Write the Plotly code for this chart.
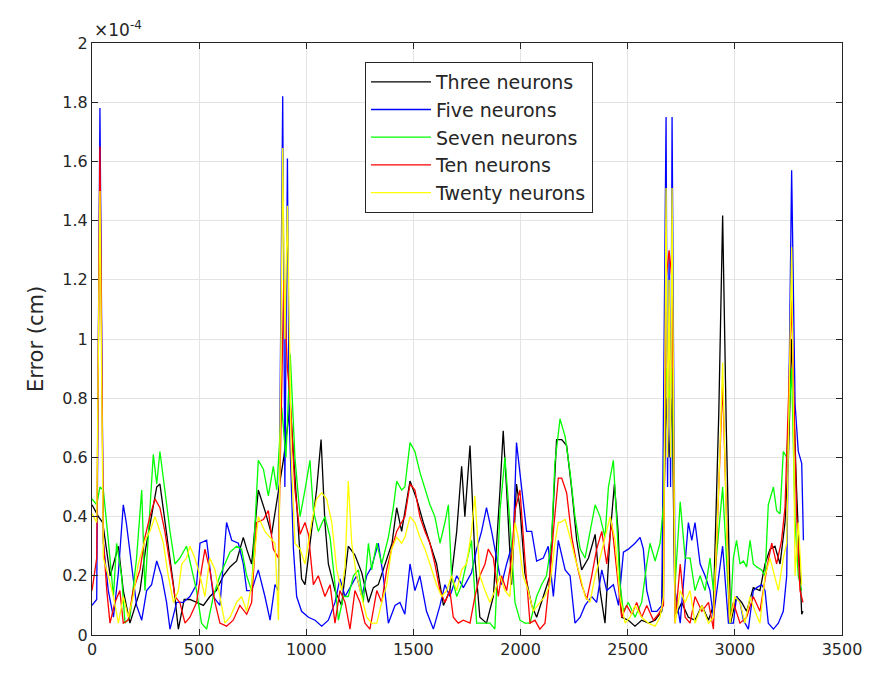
import plotly.graph_objects as go

# values in units of 1e-4 cm
black_x = [0,30,50,85,123,146,177,224,250,302,317,348,380,403,430,457,488,520,550,580,613,644,675,706,722,745,776,807,838,870,895,925,950,978,994,1025,1048,1069,1087,1103,1134,1165,1196,1227,1259,1290,1313,1336,1368,1400,1422,1445,1484,1515,1546,1577,1608,1640,1670,1702,1725,1740,1764,1787,1810,1841,1873,1904,1919,1935,1958,1981,1997,2020,2052,2075,2106,2137,2168,2192,2215,2239,2262,2285,2317,2348,2371,2394,2418,2438,2455,2472,2503,2534,2565,2597,2628,2659,2679,2693,2707,2721,2752,2783,2814,2846,2877,2900,2925,2943,2960,2980,3008,3032,3055,3086,3117,3141,3164,3187,3211,3234,3250,3265,3288,3312,3318]
black_y = [0.44,0.40,0.38,0.20,0.30,0.15,0.04,0.15,0.29,0.50,0.51,0.35,0.17,0.02,0.12,0.12,0.11,0.10,0.13,0.15,0.20,0.23,0.25,0.33,0.29,0.24,0.49,0.42,0.34,0.49,0.60,0.78,0.50,0.19,0.17,0.35,0.49,0.66,0.38,0.24,0.15,0.10,0.30,0.27,0.21,0.11,0.16,0.17,0.24,0.31,0.43,0.35,0.52,0.46,0.38,0.31,0.24,0.10,0.15,0.35,0.57,0.40,0.64,0.26,0.06,0.04,0.13,0.49,0.69,0.49,0.17,0.51,0.43,0.21,0.10,0.06,0.13,0.20,0.66,0.66,0.64,0.49,0.32,0.22,0.26,0.34,0.15,0.04,0.34,0.51,0.35,0.06,0.05,0.03,0.05,0.04,0.05,0.08,0.80,0.60,0.80,0.06,0.11,0.06,0.05,0.10,0.05,0.10,0.75,1.417,0.70,0.04,0.13,0.11,0.08,0.16,0.15,0.24,0.29,0.30,0.24,0.38,0.60,1.00,0.49,0.07,0.08]

blue_x = [0,22,37,53,76,100,123,146,160,185,208,232,255,278,302,325,348,364,395,426,457,488,504,535,566,597,628,652,683,706,722,745,776,807,831,854,870,890,900,912,920,940,955,978,1010,1041,1072,1103,1134,1157,1181,1212,1235,1259,1282,1305,1336,1359,1383,1414,1437,1460,1484,1507,1530,1561,1593,1624,1647,1670,1702,1733,1771,1795,1818,1841,1865,1888,1911,1935,1966,1981,2005,2028,2052,2075,2106,2129,2153,2176,2208,2231,2254,2278,2301,2332,2355,2379,2402,2433,2457,2480,2503,2534,2558,2573,2589,2612,2636,2659,2679,2686,2693,2700,2707,2721,2745,2768,2783,2799,2814,2838,2861,2884,2900,2943,2970,2993,3008,3024,3040,3063,3086,3102,3125,3141,3156,3180,3203,3226,3242,3265,3281,3296,3312,3320]
blue_y = [0.10,0.12,1.78,0.31,0.15,0.06,0.21,0.44,0.38,0.24,0.10,0.05,0.15,0.17,0.25,0.20,0.11,0.02,0.11,0.11,0.13,0.17,0.31,0.32,0.13,0.10,0.38,0.32,0.31,0.24,0.15,0.15,0.22,0.13,0.05,0.17,0.15,1.82,0.50,1.61,0.74,0.29,0.13,0.08,0.06,0.05,0.03,0.05,0.11,0.19,0.13,0.17,0.20,0.13,0.20,0.23,0.31,0.20,0.04,0.10,0.11,0.07,0.24,0.15,0.20,0.08,0.02,0.10,0.17,0.13,0.20,0.16,0.21,0.29,0.35,0.43,0.35,0.26,0.17,0.24,0.32,0.65,0.49,0.35,0.35,0.25,0.26,0.30,0.13,0.32,0.22,0.20,0.04,0.06,0.10,0.13,0.11,0.22,0.15,0.17,0.10,0.28,0.29,0.31,0.33,0.29,0.15,0.08,0.08,0.10,1.75,0.50,1.28,0.50,1.75,0.15,0.04,0.26,0.38,0.32,0.38,0.24,0.20,0.15,0.06,0.30,0.04,0.04,0.13,0.11,0.05,0.02,0.15,0.16,0.17,0.15,0.04,0.02,0.04,0.08,0.20,1.57,0.78,0.62,0.58,0.32]

green_x = [0,22,37,53,76,100,115,138,154,177,208,232,247,270,286,302,317,340,364,387,410,441,473,488,511,535,566,597,620,644,675,698,722,745,776,800,823,846,862,885,905,925,947,971,994,1017,1033,1056,1087,1111,1134,1150,1173,1196,1220,1243,1266,1290,1305,1329,1352,1383,1406,1422,1445,1460,1484,1507,1530,1554,1577,1600,1624,1647,1663,1678,1702,1725,1748,1771,1795,1826,1857,1880,1904,1927,1950,1974,1997,2020,2044,2075,2098,2121,2145,2160,2176,2184,2208,2231,2254,2278,2301,2324,2348,2371,2394,2410,2433,2449,2464,2480,2503,2534,2565,2589,2604,2628,2651,2667,2679,2693,2707,2721,2745,2768,2791,2814,2838,2861,2884,2900,2943,2977,2993,3008,3024,3040,3055,3071,3086,3102,3125,3141,3156,3180,3195,3211,3226,3242,3265,3281,3296,3312]
green_y = [0.46,0.44,0.50,0.49,0.32,0.13,0.31,0.20,0.04,0.06,0.26,0.49,0.15,0.43,0.61,0.51,0.62,0.49,0.35,0.24,0.26,0.30,0.20,0.15,0.04,0.02,0.13,0.20,0.24,0.28,0.30,0.29,0.20,0.15,0.59,0.56,0.47,0.57,0.49,0.77,0.60,0.95,0.60,0.40,0.49,0.59,0.42,0.35,0.40,0.33,0.17,0.05,0.13,0.13,0.20,0.22,0.11,0.31,0.22,0.31,0.24,0.33,0.43,0.52,0.49,0.50,0.65,0.62,0.55,0.49,0.44,0.40,0.31,0.38,0.44,0.20,0.13,0.17,0.25,0.32,0.04,0.04,0.04,0.02,0.42,0.60,0.38,0.11,0.05,0.04,0.04,0.13,0.17,0.20,0.32,0.58,0.69,0.73,0.67,0.55,0.40,0.29,0.26,0.35,0.44,0.40,0.33,0.50,0.59,0.38,0.17,0.08,0.11,0.06,0.11,0.24,0.31,0.25,0.31,0.44,0.90,0.80,0.90,0.17,0.45,0.26,0.26,0.15,0.20,0.15,0.26,0.15,0.50,0.04,0.26,0.32,0.24,0.25,0.23,0.32,0.24,0.23,0.22,0.20,0.44,0.50,0.42,0.41,0.62,0.60,0.90,0.38,0.20,0.15]

red_x = [0,22,37,53,69,84,107,130,146,169,192,224,247,270,294,317,340,364,387,410,434,457,488,511,527,550,574,597,628,659,690,722,745,768,800,823,846,870,895,912,925,947,971,994,1010,1033,1056,1087,1111,1134,1157,1181,1204,1227,1251,1274,1297,1329,1352,1375,1398,1422,1445,1460,1484,1507,1530,1554,1577,1600,1624,1647,1670,1686,1709,1733,1764,1787,1810,1834,1849,1873,1896,1911,1935,1958,1974,1997,2020,2044,2067,2090,2114,2137,2153,2176,2192,2215,2239,2262,2285,2309,2332,2355,2379,2402,2425,2449,2472,2495,2519,2542,2565,2589,2620,2643,2667,2679,2693,2707,2721,2745,2768,2791,2814,2846,2877,2900,2943,2975,2993,3024,3055,3086,3117,3148,3172,3195,3218,3234,3265,3288,3304,3318]
red_y = [0.15,0.26,1.65,0.32,0.15,0.04,0.11,0.15,0.04,0.05,0.15,0.22,0.33,0.40,0.46,0.43,0.35,0.23,0.13,0.11,0.04,0.06,0.11,0.22,0.29,0.22,0.11,0.04,0.03,0.05,0.10,0.07,0.11,0.38,0.39,0.42,0.29,0.26,1.20,0.90,0.80,0.49,0.34,0.38,0.34,0.17,0.20,0.13,0.17,0.04,0.15,0.11,0.02,0.15,0.11,0.04,0.02,0.15,0.11,0.22,0.29,0.35,0.38,0.40,0.51,0.49,0.40,0.35,0.31,0.24,0.15,0.11,0.15,0.06,0.04,0.05,0.04,0.13,0.20,0.24,0.29,0.26,0.13,0.20,0.15,0.26,0.42,0.49,0.26,0.04,0.05,0.02,0.04,0.20,0.35,0.53,0.53,0.48,0.33,0.24,0.17,0.12,0.20,0.29,0.35,0.24,0.38,0.22,0.06,0.10,0.07,0.11,0.06,0.10,0.05,0.07,0.10,1.20,1.30,1.20,0.04,0.24,0.06,0.04,0.13,0.08,0.11,0.02,0.85,0.05,0.11,0.04,0.06,0.13,0.08,0.22,0.31,0.24,0.32,0.43,1.13,0.41,0.15,0.11]

yellow_x = [0,22,37,53,76,100,123,146,169,192,216,247,270,294,317,333,356,380,403,419,441,457,480,504,527,550,574,597,620,644,675,698,722,745,776,807,831,854,870,890,900,912,930,947,971,994,1025,1048,1072,1095,1119,1142,1165,1181,1196,1212,1235,1259,1282,1305,1329,1352,1375,1398,1422,1445,1460,1484,1507,1530,1554,1577,1608,1632,1655,1678,1702,1725,1748,1771,1787,1810,1834,1857,1880,1904,1927,1950,1974,1989,2012,2036,2059,2090,2114,2137,2160,2176,2184,2208,2231,2254,2278,2301,2324,2348,2371,2394,2418,2441,2464,2488,2511,2534,2565,2597,2628,2651,2667,2679,2686,2693,2700,2707,2721,2745,2768,2791,2814,2846,2877,2900,2925,2943,2960,2977,3000,3024,3047,3071,3094,3117,3141,3164,3187,3203,3226,3242,3265,3281,3296,3312]
yellow_y = [0.41,0.38,1.50,0.26,0.20,0.13,0.04,0.13,0.06,0.13,0.24,0.32,0.35,0.40,0.35,0.31,0.20,0.11,0.15,0.24,0.26,0.30,0.26,0.20,0.13,0.26,0.22,0.13,0.04,0.06,0.11,0.13,0.08,0.17,0.40,0.35,0.33,0.31,0.05,1.645,1.00,1.45,0.60,0.31,0.29,0.24,0.38,0.46,0.48,0.46,0.38,0.22,0.15,0.23,0.52,0.31,0.20,0.13,0.06,0.04,0.04,0.11,0.17,0.29,0.33,0.31,0.33,0.40,0.38,0.33,0.29,0.24,0.17,0.13,0.15,0.20,0.15,0.22,0.24,0.35,0.47,0.20,0.15,0.11,0.15,0.20,0.15,0.13,0.38,0.33,0.20,0.15,0.08,0.11,0.13,0.17,0.31,0.38,0.38,0.39,0.33,0.26,0.20,0.13,0.11,0.20,0.26,0.33,0.40,0.32,0.13,0.04,0.06,0.10,0.06,0.04,0.03,0.06,0.13,1.51,0.60,1.20,0.60,1.51,0.04,0.15,0.11,0.15,0.04,0.10,0.04,0.06,0.50,0.92,0.40,0.04,0.13,0.11,0.04,0.13,0.08,0.04,0.20,0.26,0.20,0.15,0.26,0.31,1.31,0.20,0.38,0.17]

series = [
    ("Three neurons", black_x, black_y, "#000000"),
    ("Five neurons", blue_x, blue_y, "#0000ff"),
    ("Seven neurons", green_x, green_y, "#00ff00"),
    ("Ten neurons", red_x, red_y, "#ff0000"),
    ("Twenty neurons", yellow_x, yellow_y, "#ffff00"),
]

x_ticks = [0, 500, 1000, 1500, 2000, 2500, 3000, 3500]
y_ticks = [0, 0.2, 0.4, 0.6, 0.8, 1, 1.2, 1.4, 1.6, 1.8, 2]
y_ticklabels = ["0", "0.2", "0.4", "0.6", "0.8", "1", "1.2", "1.4", "1.6", "1.8", "2"]

fig = go.Figure()
for name, xs, ys, col in series:
    fig.add_trace(go.Scatter(x=xs, y=ys, mode="lines", name=name,
                             line=dict(color=col, width=1.3)))

axis_common = dict(showline=True, linecolor="#262626", linewidth=1, mirror="ticks",
                   ticks="inside", ticklen=6, tickcolor="#262626",
                   showgrid=True, gridcolor="#e3e3e3", gridwidth=1, zeroline=False,
                   tickfont=dict(family="DejaVu Sans", size=16, color="#262626"))

fig.update_layout(
    width=874, height=673,
    margin=dict(l=92, r=32, t=43, b=38),
    paper_bgcolor="white", plot_bgcolor="white",
    font=dict(family="DejaVu Sans", color="#262626"),
    xaxis=dict(range=[0, 3500], tickvals=x_ticks, **axis_common),
    yaxis=dict(range=[0, 2], tickvals=y_ticks, ticktext=y_ticklabels,
               title=dict(text="Error (cm)", font=dict(size=21, color="#262626"), standoff=12),
               **axis_common),
    legend=dict(x=0.364, y=0.968, xanchor="left", yanchor="top",
                bgcolor="white", bordercolor="#262626", borderwidth=1,
                font=dict(family="DejaVu Sans", size=19, color="#262626"),
                tracegroupgap=0, itemwidth=60),
    showlegend=True,
)
fig.add_annotation(xref="paper", yref="paper", x=0, y=1.0, xanchor="left", yanchor="bottom",
                   text="×10<sup>-4</sup>", showarrow=False, yshift=1,
                   font=dict(family="DejaVu Sans", size=17, color="#262626"))

fig.write_html("out.html")
